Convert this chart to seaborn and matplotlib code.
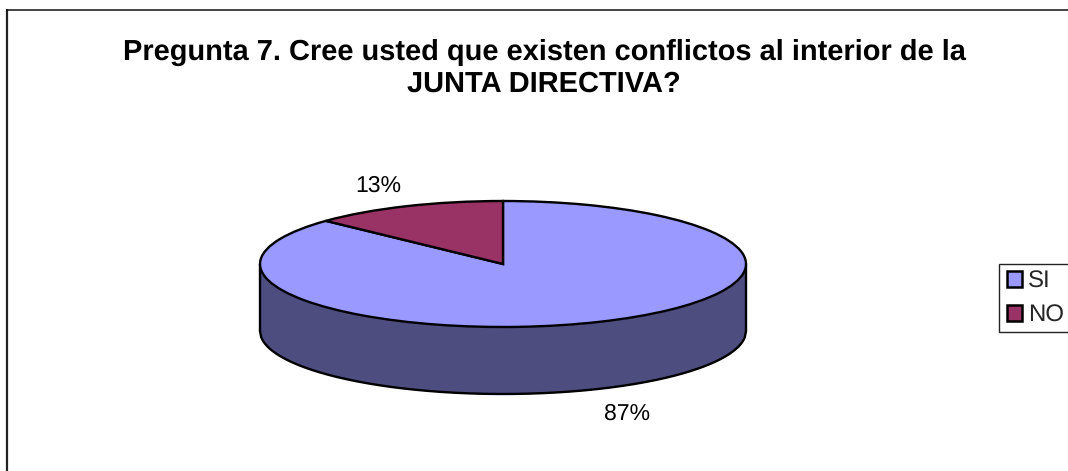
import numpy as np
import matplotlib
matplotlib.use("Agg")
import matplotlib.pyplot as plt
from matplotlib.lines import Line2D
from matplotlib.patches import Wedge
from matplotlib.legend_handler import HandlerPatch
import seaborn as sns

# Survey answers
answers = ["SI", "NO"]
shares = [87, 13]
title_text = "Pregunta 7. Cree usted que existen conflictos al interior de la\nJUNTA DIRECTIVA?"

sns.set_theme(style="white")
plt.rcParams["font.family"] = ["Liberation Sans", "DejaVu Sans"]
plt.rcParams["text.hinting"] = "no_hinting"
plt.rcParams["text.hinting_factor"] = 1

W, H = 1068, 471
fig = plt.figure(figsize=(W / 100, H / 100), dpi=100, facecolor="white")

# Outer frame, open towards the right and bottom edges
fig.add_artist(Line2D([6.5 / W, 6.5 / W], [0, 1 - 9 / H], color="#222222", lw=1.6,
                      solid_capstyle="butt"))
fig.add_artist(Line2D([6 / W, 1], [1 - 9.5 / H, 1 - 9.5 / H], color="#111111", lw=1.1,
                      solid_capstyle="butt"))

fig.text(544 / W, 1 - 68.5 / H, title_text, ha="center", va="center",
         fontsize=20.62, fontweight="bold", color="black", linespacing=1.2)

# Tilted pie: an elliptical top over a darker cylindrical side
cx, cy, rx, ry, depth_px = 503, 264, 243, 63, 67
ylim = (-2.5, 1.25)
ax = fig.add_axes([(cx - 1.25 * rx) / W, 1 - (cy + 2.5 * ry) / H,
                   2.5 * rx / W, (ylim[1] - ylim[0]) * ry / H])
ax.patch.set_alpha(0)

palette = sns.color_palette(["#9999FF", "#993366"])
side_color = "#4D4D7F"
outline = 1.7
edge = dict(edgecolor="black", linewidth=outline)

wedges, _ = ax.pie(shares, colors=palette, startangle=90, counterclock=False,
                   radius=1, wedgeprops=edge)
for w in wedges:
    w.set_zorder(3)
ax.set_aspect("auto")
ax.set_xlim(-1.25, 1.25)
ax.set_ylim(*ylim)
ax.axis("off")

depth = depth_px / ry
xs = np.linspace(-1, 1, 400)
lower = -np.sqrt(1 - xs ** 2)
ax.fill_between(xs, lower - depth, lower, color=side_color, lw=0, zorder=1)
ax.plot(xs, lower - depth, color="black", lw=outline, zorder=2)
ax.plot([-1, -1], [0, -depth], color="black", lw=outline, zorder=2)
ax.plot([1, 1], [0, -depth], color="black", lw=outline, zorder=2)

# Percentage labels outside the pie
label_pos = {"SI": (627, 414), "NO": (378, 185.5)}
for name, share in zip(answers, shares):
    px, py = label_pos[name]
    ax.text((px - cx) / rx, (cy - py) / ry, f"{share}%", ha="center", va="center",
            fontsize=16.8, color="black", clip_on=False)

leg = fig.legend(wedges, answers, loc="lower left",
                 bbox_to_anchor=(999 / W, 1 - 332 / H), borderaxespad=0,
                 fontsize=17, frameon=True, fancybox=False, framealpha=1,
                 edgecolor="#222222", handlelength=0.72, handleheight=0.66,
                 handletextpad=0.27, labelspacing=0.49, borderpad=0.24,
                 handler_map={Wedge: HandlerPatch(xpad=0.1)})
leg.get_frame().set_linewidth(1.0)
for h in leg.legend_handles:
    h.set_linewidth(1.8)

fig.savefig("out.png", dpi=100)
